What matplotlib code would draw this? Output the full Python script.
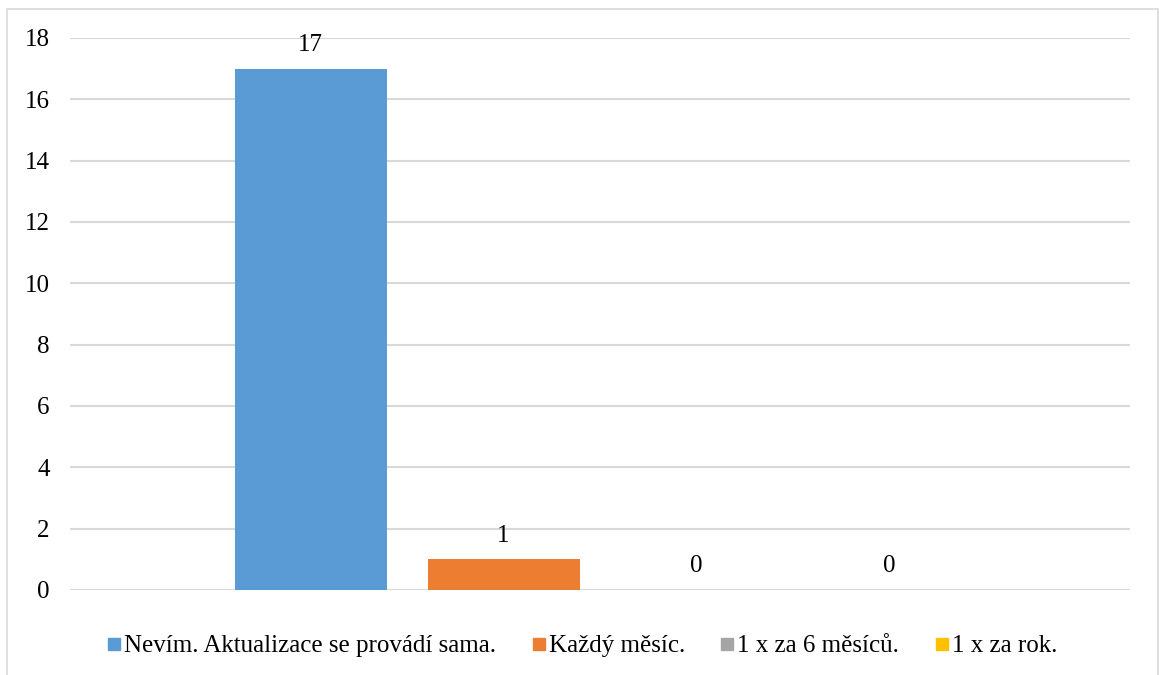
import matplotlib
matplotlib.use("Agg")
import matplotlib.pyplot as plt
from matplotlib.lines import Line2D
from matplotlib.patches import Rectangle

series_names = ["Nevím. Aktualizace se provádí sama.", "Každý měsíc.",
                "1 x za 6 měsíců.", "1 x za rok."]
values = [17, 1, 0, 0]
colors = ["#5B9BD5", "#ED7D31", "#A5A5A5", "#FFC000"]
yticks = [0, 2, 4, 6, 8, 10, 12, 14, 16, 18]

plt.rcParams['font.family'] = ['Liberation Serif', 'DejaVu Serif']

W, H = 1159, 675
fig = plt.figure(figsize=(W / 100, H / 100), dpi=100)
fig.patch.set_facecolor("white")

# outer chart border
fig.patches.append(Rectangle((7 / W, -0.01), (1158 - 7) / W, 1.01 - 9 / H,
                             transform=fig.transFigure, fill=False,
                             edgecolor="#D9D9D9", linewidth=1.2))

ax = fig.add_axes([70 / W, (H - 590) / H, (1130 - 70) / W, (590 - 38) / H])

n = len(values)
bar_w = 152 / 1060
step = 193 / 1060
centers = [(i - (n - 1) / 2) * step for i in range(n)]
for c, v, col in zip(centers, values, colors):
    ax.bar(c, v, width=bar_w, color=col, zorder=3)
    ax.annotate(str(v), (c, v), xytext=(0, 9), textcoords="offset points",
                ha="center", va="bottom", fontsize=18, color="#000000")

ax.set_xlim(-0.5, 0.5)
ax.set_ylim(0, 18)
ax.set_yticks(yticks)
ax.set_yticklabels([str(t) for t in yticks])
ax.set_xticks([])
ax.tick_params(axis="y", length=0, pad=14.5, labelsize=18)
ax.grid(axis="y", color="#D9D9D9", linewidth=1.5, zorder=0)
for s in ax.spines.values():
    s.set_visible(False)

handles = [Line2D([0], [0], marker="s", linestyle="none", markersize=8,
                  markerfacecolor=col, markeredgecolor=col) for col in colors]
fig.legend(handles, series_names, loc="center", bbox_to_anchor=(0.501, (H - 646) / H),
           ncol=4, frameon=False, fontsize=18, handletextpad=0.0,
           columnspacing=1.3, handlelength=0.8)

fig.savefig("out.png", dpi=100)
